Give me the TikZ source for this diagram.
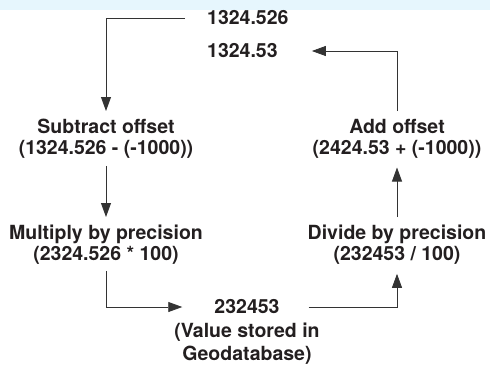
\documentclass[tikz,border=0pt]{standalone}
\usepackage{fontspec}
\setmainfont{TeX Gyre Heros}
\usetikzlibrary{arrows.meta}
\definecolor{bandblue}{HTML}{E6F6FD}
\definecolor{inkgray}{HTML}{231F20}
\definecolor{linegray}{HTML}{333333}

\begin{document}
\begin{tikzpicture}[x=1pt,y=-1pt,
        lbl/.style={inner sep=0pt,align=center,text=inkgray,font=\bfseries\fontsize{19.5}{21}\selectfont},
        flow/.style={draw=linegray,line width=0.8pt,-{Triangle[length=14pt,width=10pt]}}]
        \useasboundingbox (0,0) rectangle (490,365);
        \fill[bandblue] (0,0) rectangle (490,10);
        % values at the top
        \node[lbl,anchor=west] (inval) at (207,18) {1324.526};
        \node[lbl,anchor=west] (rndval) at (207,51) {1324.53};
        % left column
        \node[lbl,anchor=north] (sub) at (106,119) {Subtract offset\\(1324.526 - (-1000))};
        \node[lbl,anchor=north] (mult) at (106,225) {Multiply by precision\\(2324.526 * 100)};
        % right column
        \node[lbl,anchor=north] (add) at (397,119) {Add offset\\(2424.53 + (-1000))};
        \node[lbl,anchor=north] (div) at (397,225) {Divide by precision\\(232453 / 100)};
        % stored value
        \node[lbl] (outval) at (247,307) {232453};
        \node[lbl,anchor=north,font=\bfseries\fontsize{19.5}{23}\selectfont] (note) at (247,323) {(Value stored in\\Geodatabase)};
        \draw[flow,shorten <=22pt,shorten >=8pt] (inval.west) -| (sub.north);
        \draw[flow,shorten <=7pt,shorten >=8pt] (sub.south) -- (mult.north);
        \draw[flow,shorten <=6pt,shorten >=32pt] (mult.south) |- (outval.west);
        \draw[flow,shorten <=29pt,shorten >=9pt] (outval.east) -| (div.south);
        \draw[flow,shorten <=8pt,shorten >=9pt] (div.north) -- (add.south);
        \draw[flow,shorten <=8pt,shorten >=34pt] (add.north) |- (rndval.east);
    \end{tikzpicture}
\end{document}
